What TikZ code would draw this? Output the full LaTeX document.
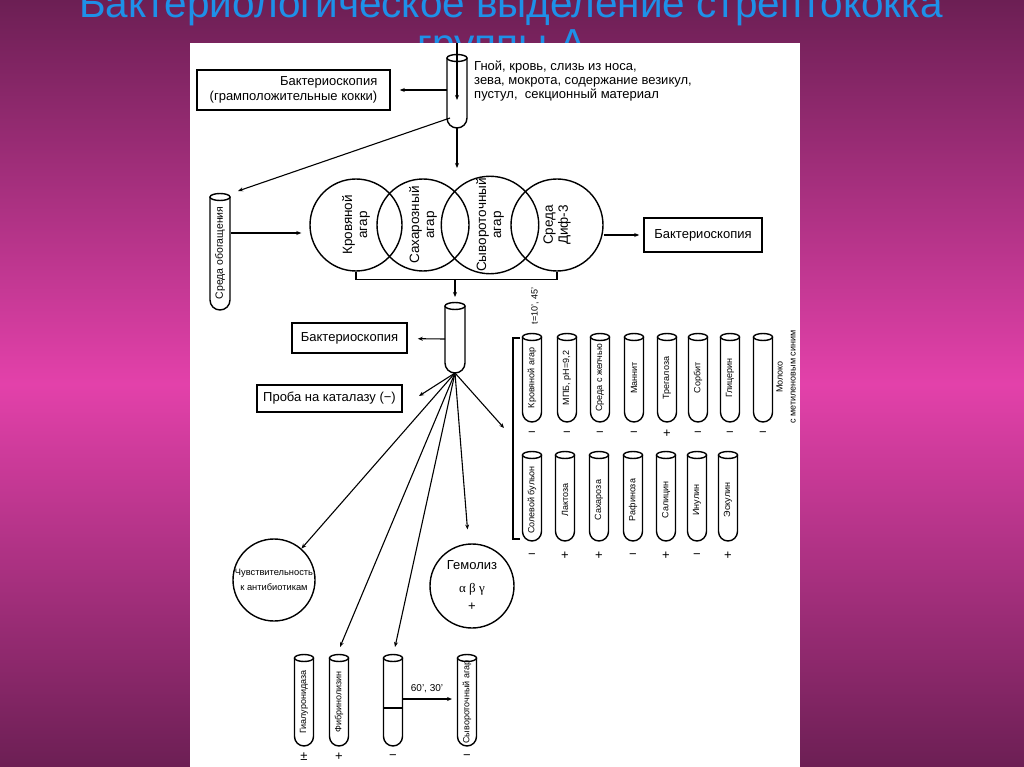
\documentclass[tikz,border=0pt]{standalone}
\usepackage{fontspec}
\setmainfont{Liberation Sans}
\newfontfamily\greekfont{Liberation Serif}
\usetikzlibrary{calc,positioning,arrows.meta}

\definecolor{slidedark}{RGB}{108,31,84}
\definecolor{slidepink}{RGB}{227,65,170}
\definecolor{titleblue}{RGB}{30,144,232}

\begin{document}
\begin{tikzpicture}[x=1pt,y=-1pt,
    arr/.style={line width=1.1pt, -{Stealth[length=5pt,width=4pt]}},
    tubeline/.style={line width=1.4pt},
    box/.style={draw, line width=1.6pt, inner sep=2pt, font=\fontsize{13}{14.5}\selectfont},
    plate/.style={circle, draw, line width=1.4pt, minimum size=92pt, inner sep=0pt, align=center, font=\fontsize{13.5}{15}\selectfont},
    tubetxt/.style={rotate=90, inner sep=0pt, font=\fontsize{9}{10}\selectfont},
    sign/.style={inner sep=0pt, font=\fontsize{13}{13}\selectfont}]
    \useasboundingbox (0,0) rectangle (1024,767);

    % slide background and title
    \shade[top color=slidedark, bottom color=slidepink] (0,0) rectangle (1024,384);
    \shade[top color=slidepink, bottom color=slidedark] (0,384) rectangle (1024,767);
    \node[anchor=base, text=titleblue, font=\fontsize{40.5}{42}\selectfont] (title1) at (511,18) {Бактериологическое выделение стрептококка};
    \node[anchor=base, text=titleblue, font=\fontsize{40.5}{42}\selectfont] (title2) at (502,58) {группы А};
    \fill[white] (190,43) rectangle (800,767);

    % single tubes: x / top / bottom / half width
    \foreach \tx/\ta/\tb/\tw in {457/58/128/10, 220/197/310/10, 455/306/373/10,
                                304/658/746/9.5, 339/658/746/9.5, 393/658/746/9.5, 467/658/746/9.5} {
        \draw[tubeline, rounded corners=\tw pt] (\tx-\tw,\ta) -- (\tx-\tw,\tb) -- (\tx+\tw,\tb) -- (\tx+\tw,\ta);
        \draw[tubeline] (\tx,\ta) ellipse [x radius=\tw, y radius=3.5];
    }

    % sample and first steps
    \coordinate (src) at (457,43);
    \coordinate (t1in) at (457,100);
    \coordinate (t1left) at (447,90);
    \coordinate (t1low) at (450,118);
    \coordinate (t1bot) at (457,128);
    \coordinate (enrtop) at (238,191);
    \coordinate (enrright) at (231,233);
    \coordinate (platestop) at (457,168);
    \draw[arr] (src) -- (t1in);
    \node[anchor=north west, align=left, inner sep=0pt, font=\fontsize{13}{14}\selectfont] (material) at (474,61)
        {Гной, кровь, слизь из носа,\\зева, мокрота, содержание везикул,\\пустул,\ \ секционный материал};
    \node[box, align=right, minimum width=193pt, minimum height=40pt] (micro1) at (293.5,90)
        {Бактериоскопия\\(грамположительные кокки)};
    \draw[arr, shorten >=9pt] (t1left) -- (micro1);
    \draw[arr] (t1low) -- (enrtop);
    \draw[arr] (t1bot) -- (platestop);
    \node[tubetxt, font=\fontsize{10.5}{11}\selectfont] (enrtxt) at (220,253) {Среда обогащения};

    % plates
    \foreach \x/\txt [count=\i] in {356/{Кровяной\\агар}, 423/{Сахарозный\\агар}, 490/{Сывороточный\\агар}, 557/{Среда\\Диф-3}} {
        \node[plate, rotate=90] (plate\i) at (\x,225) {\txt};
    }
    \draw[arr, shorten >=8pt] (enrright) -- (enrright -| plate1.north);
    \node[box, minimum width=118pt, minimum height=34pt] (micro2) at (703,235) {Бактериоскопия};
    \draw[arr, shorten >=4pt] (plate4.south |- micro2) -- (micro2);
    \draw[line width=1.3pt] (plate1.west) -- ++(0,8) -| (plate4.west);
    \coordinate (bracketmid) at (455,279);
    \coordinate (t3top) at (455,297);
    \draw[arr] (bracketmid) -- (t3top);

    % pure culture
    \coordinate (t3left) at (445,339);
    \coordinate (fan) at (455,373);
    \coordinate (catarr) at (419,396);
    \coordinate (rackarr) at (504,428);
    \coordinate (fibtop) at (340,647);
    \coordinate (serumtop) at (395,647);
    \node[box, minimum width=115pt, minimum height=30pt] (micro3) at (349.5,338) {Бактериоскопия};
    \node[box, minimum width=145pt, minimum height=27pt] (catalase) at (329.5,398.5) {Проба на каталазу (−)};
    \draw[arr, shorten >=10pt] (t3left) -- (micro3);
    \draw[arr] (fan) -- (catarr);
    \draw[arr] (fan) -- (rackarr);

    \node[circle, draw, line width=1.4pt, minimum size=82pt, inner sep=0pt, align=center, font=\fontsize{9.3}{15}\selectfont] (sens) at (274,580)
        {Чувствительность\\к антибиотикам};
    \node[circle, draw, line width=1.4pt, minimum size=84pt, inner sep=0pt, align=center, font=\fontsize{13}{23}\selectfont] (hemo) at (472,586)
        {Гемолиз\\{\greekfont α β γ}\\[-5pt]+};
    \draw[arr] (fan) -- (sens);
    \draw[arr] (fan) -- (fibtop);
    \draw[arr] (fan) -- (serumtop);
    \draw[arr, shorten >=14pt] (fan) -- (hemo);

    % sugar rack
    \draw[line width=1.2pt] (520,338) -- (513,338) -- (513,539) -- (520,539);
    \node[rotate=90, inner sep=0pt, font=\fontsize{9}{10}\selectfont] (tlabel) at (535,306) {t=10', 45'};
    \foreach \x/\txt/\sgn [count=\i] in {532/Кровяной агар/−, 567/{МПБ, pH=9,2}/−, 600/Среда с желчью/−, 634/Маннит/−,
                                         667/Трегалоза/+, 698/Сорбит/−, 730/Глицерин/−, 763//−} {
        \draw[tubeline, rounded corners=9.5pt] (\x-9.5,337) -- (\x-9.5,422) -- (\x+9.5,422) -- (\x+9.5,337);
        \draw[tubeline] (\x,337) ellipse [x radius=9.5, y radius=3.5];
        \node[tubetxt] (upper\i) at (\x,378) {\txt};
        \node[sign] (uppersign\i) at (\x,434) {\sgn};
    }
    \node[rotate=90, align=center, inner sep=0pt, font=\fontsize{9}{13}\selectfont] (milk) at (786,377) {Молоко\\с метиленовым синим};
    \foreach \x/\txt/\sgn [count=\i] in {532/Солевой бульон/−, 565/Лактоза/+, 599/Сахароза/+, 633/Рафиноза/−,
                                         666/Салицин/+, 697/Инулин/−, 728/Эскулин/+} {
        \draw[tubeline, rounded corners=9.5pt] (\x-9.5,455) -- (\x-9.5,541) -- (\x+9.5,541) -- (\x+9.5,455);
        \draw[tubeline] (\x,455) ellipse [x radius=9.5, y radius=3.5];
        \node[tubetxt] (lower\i) at (\x,500) {\txt};
        \node[sign] (lowersign\i) at (\x,556) {\sgn};
    }

    % enzyme tubes
    \foreach \x/\txt/\sgn [count=\i] in {304/Гиалуронидаза/±, 339/Фибринолизин/+, 393//−, 467/Сывороточный агар/−} {
        \node[tubetxt] (enz\i) at (\x,702) {\txt};
        \node[sign] (enzsign\i) at (\x,757) {\sgn};
    }
    \draw[tubeline] (383.5,708) -- (402.5,708);
    \coordinate (serumright) at (403,699);
    \coordinate (agarleft) at (452,699);
    \draw[arr] (serumright) -- (agarleft);
    \node[inner sep=0pt, font=\fontsize{10}{10}\selectfont] (heatlabel) at (427,689) {60', 30'};
\end{tikzpicture}
\end{document}
